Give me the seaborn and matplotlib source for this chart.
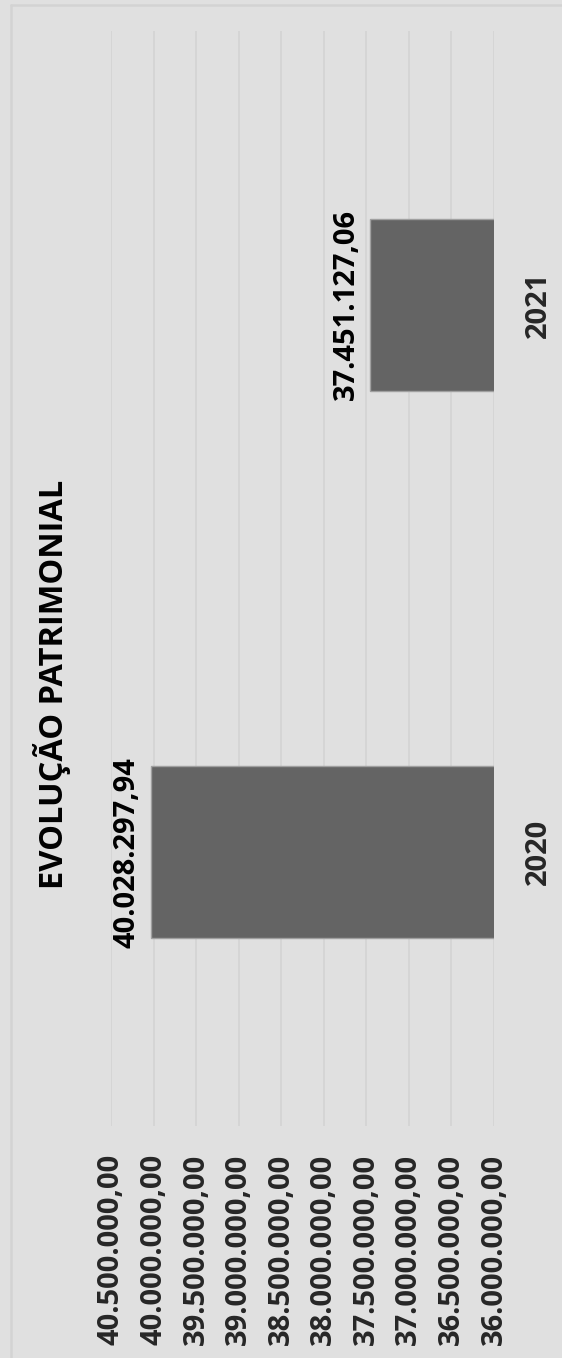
import pandas as pd
import matplotlib
matplotlib.use("Agg")
import matplotlib.pyplot as plt
import seaborn as sns
from matplotlib.lines import Line2D

# dados do grafico
anos = ["2021", "2020"]
valores = [37451127.06, 40028297.94]
ticks_eixo = [36000000, 36500000, 37000000, 37500000, 38000000,
              38500000, 39000000, 39500000, 40000000, 40500000]
titulo = "EVOLUÇÃO PATRIMONIAL"


def formata_br(v):
    s = f"{v:,.2f}"
    return s.replace(",", "X").replace(".", ",").replace("X", ".")


def plot_evolucao():
    sns.set_style("white")
    plt.rcParams['font.family'] = ['Open Sans', 'DejaVu Sans']
    plt.rcParams['font.weight'] = 'bold'

    fundo = '#e0e0e0'
    tam = 21
    fig = plt.figure(figsize=(5.62, 13.58), dpi=100, facecolor=fundo)
    ax = fig.add_axes([111 / 562, 1 - 1126 / 1358, 383 / 562, 1095 / 1358])
    ax.set_facecolor(fundo)

    df = pd.DataFrame({'ano': anos, 'valor': valores})
    sns.barplot(data=df, x='valor', y='ano', orient='h', order=anos,
                color='#646464', saturation=1, width=0.315,
                edgecolor='#a0a0a0', linewidth=1, ax=ax)

    ax.set_xlim(ticks_eixo[-1], ticks_eixo[0])
    ax.set_ylim(1.5, -0.5)
    ax.set_xticks(ticks_eixo)
    ax.set_xticklabels([formata_br(t) for t in ticks_eixo],
                       fontweight='bold', fontsize=tam, rotation=90)
    ax.set_yticks([0, 1])
    ax.set_yticklabels(anos, fontweight='bold', fontsize=tam, rotation=90,
                       va='center')
    ax.grid(axis='x', color='#d4d4d4', linewidth=1.3)
    ax.grid(axis='y', visible=False)
    ax.set_axisbelow(True)
    for s in ax.spines.values():
        s.set_visible(False)
    ax.set_xlabel('')
    ax.set_ylabel('')

    ax.tick_params(axis='x', length=0, pad=20)
    ax.yaxis.tick_right()
    ax.tick_params(axis='y', length=0, pad=21.5)

    # rotulos dos valores
    for p in ax.patches:
        fim = p.get_x() + p.get_width()
        centro = p.get_y() + p.get_height() / 2
        ax.annotate(formata_br(fim), xy=(fim, centro), xytext=(-7, 0),
                    textcoords='offset points', rotation=90, ha='right',
                    va='center', fontsize=tam, fontweight='bold', color='black')

    fig.text(52 / 562, 1 - 684 / 1358, titulo, rotation=90, ha='center',
             va='center', fontsize=23.5, fontweight='bold', color='black')

    # moldura externa
    cor_moldura = '#d3d3d3'
    fig.add_artist(Line2D([11 / 562, 1.0], [1 - 5 / 1358, 1 - 5 / 1358],
                          color=cor_moldura, linewidth=1.8))
    fig.add_artist(Line2D([11 / 562, 11 / 562], [0.0, 1 - 5 / 1358],
                          color=cor_moldura, linewidth=1.8))

    fig.canvas.draw()
    for lb in ax.get_xticklabels() + ax.get_yticklabels():
        lb.set_fontweight('bold')

    fig.savefig('out.png', dpi=100, facecolor=fundo)


if __name__ == "__main__":
    plot_evolucao()
